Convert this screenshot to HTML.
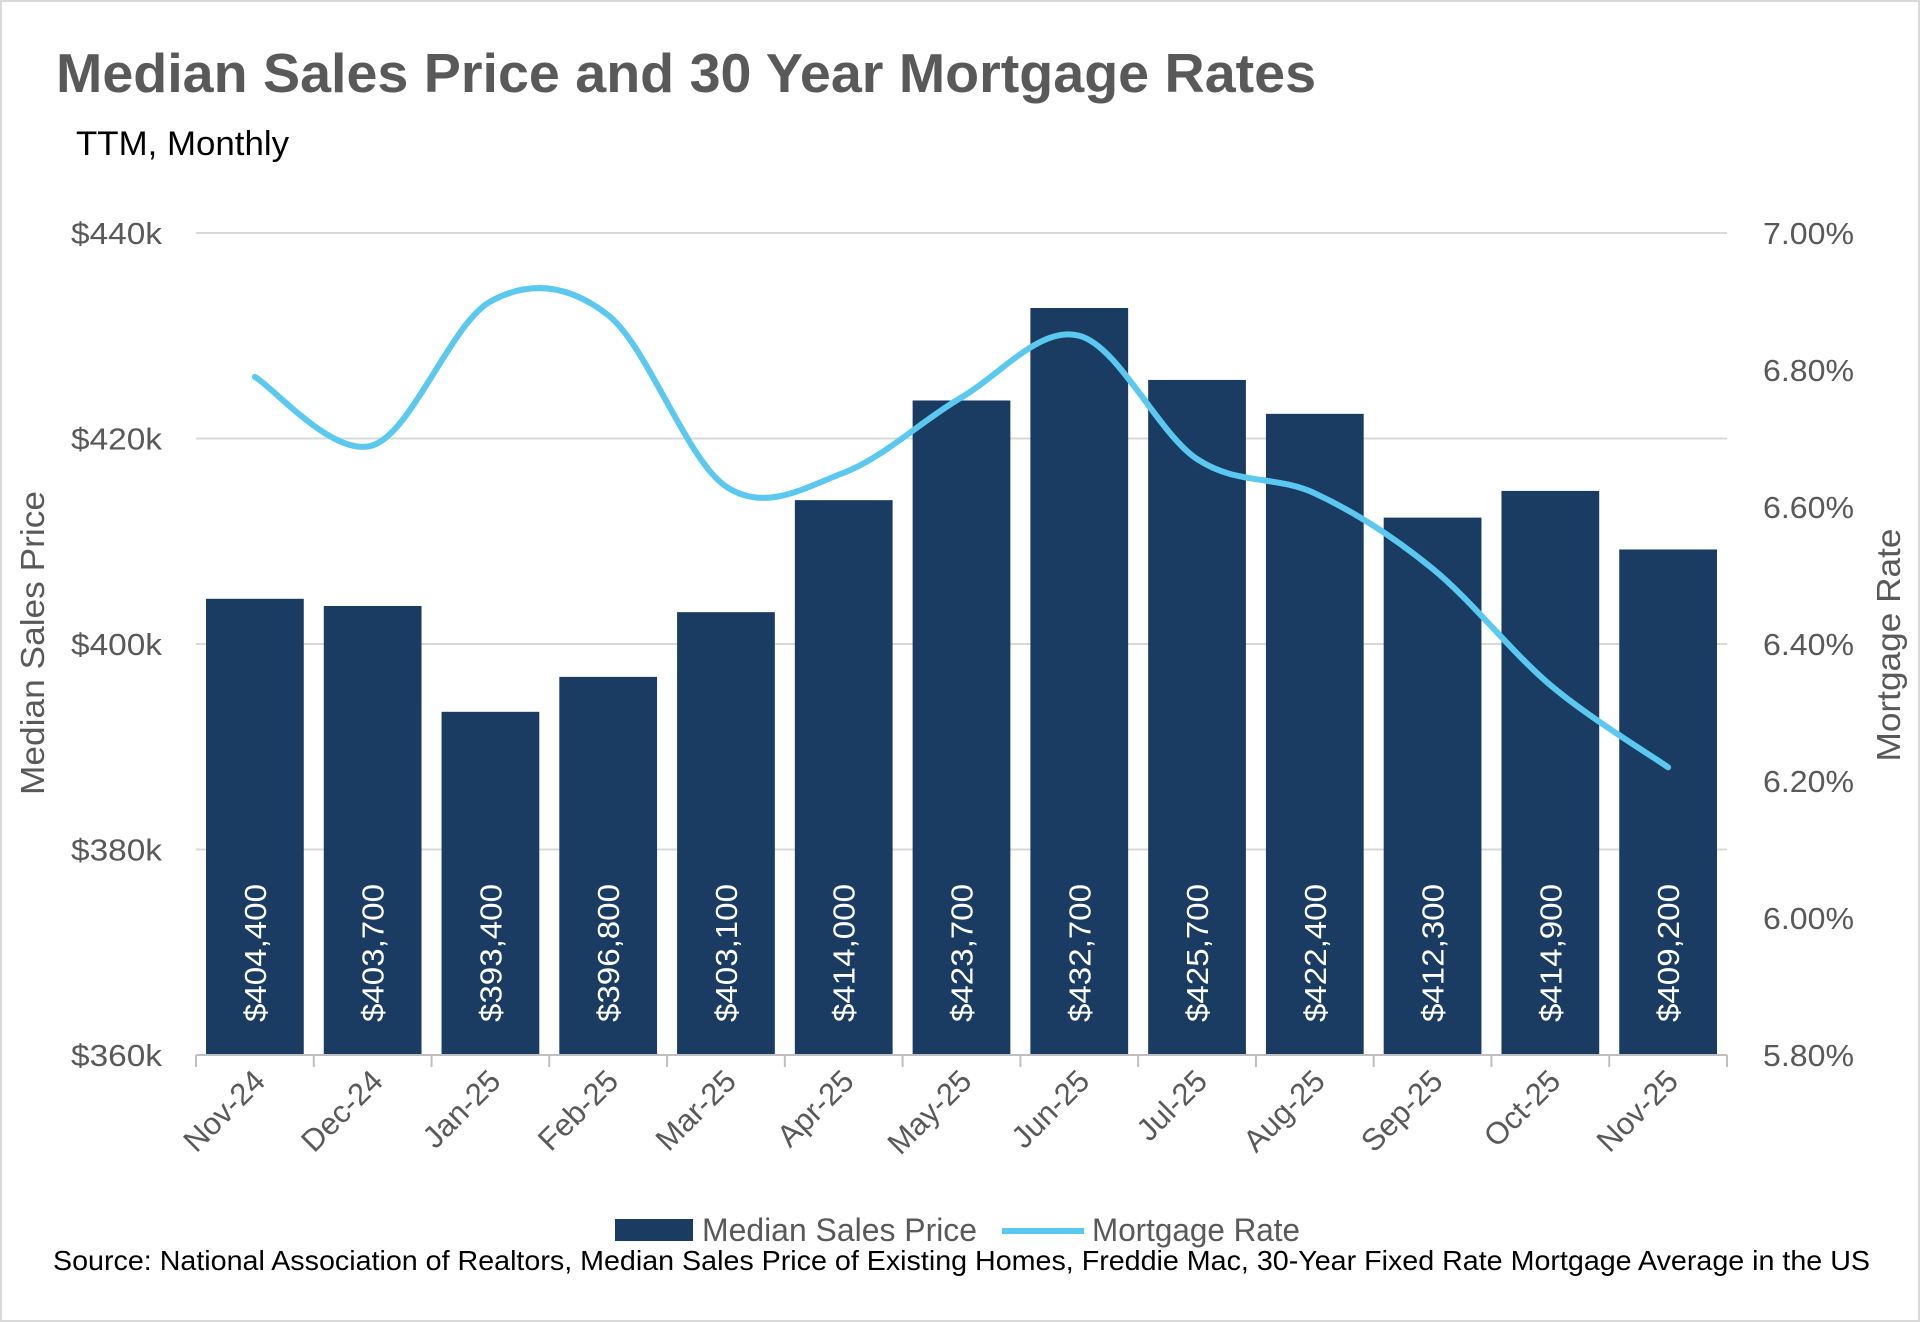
<!DOCTYPE html>
<html><head><meta charset="utf-8"><style>
html,body{margin:0;padding:0;background:#fff}
svg{display:block;font-family:"Liberation Sans",sans-serif}
</style></head><body>
<svg id="chart" width="1920" height="1322" viewBox="0 0 1920 1322">
<rect x="1" y="1" width="1918" height="1320" fill="#fff" stroke="#d9d9d9" stroke-width="2"/>
<text x="56" y="92" font-size="55" font-weight="bold" fill="#595959" textLength="1260" lengthAdjust="spacingAndGlyphs">Median Sales Price and 30 Year Mortgage Rates</text>
<text x="76" y="155" font-size="34" fill="#000" textLength="213" lengthAdjust="spacingAndGlyphs">TTM, Monthly</text>
<g id="grid"></g><g id="bars"></g><g id="line"></g><g id="axes"></g>
<text transform="translate(44,643) rotate(-90)" text-anchor="middle" font-size="33" fill="#595959" textLength="304" lengthAdjust="spacingAndGlyphs">Median Sales Price</text>
<text transform="translate(1900,645) rotate(-90)" text-anchor="middle" font-size="33" fill="#595959" textLength="233" lengthAdjust="spacingAndGlyphs">Mortgage Rate</text>
<g>
<rect x="615" y="1219" width="78" height="22" fill="#1a3c63"/>
<text x="702" y="1241" font-size="32" fill="#595959" textLength="275" lengthAdjust="spacingAndGlyphs">Median Sales Price</text>
<line x1="1002" y1="1231" x2="1084" y2="1231" stroke="#5bc8f0" stroke-width="6"/>
<text x="1092" y="1241" font-size="32" fill="#595959" textLength="208" lengthAdjust="spacingAndGlyphs">Mortgage Rate</text>
</g>
<text x="53" y="1270" font-size="28" fill="#000" textLength="1817" lengthAdjust="spacingAndGlyphs">Source: National Association of Realtors, Median Sales Price of Existing Homes, Freddie Mac, 30-Year Fixed Rate Mortgage Average in the US</text>
</svg>
<script>
const categories=["Nov-24","Dec-24","Jan-25","Feb-25","Mar-25","Apr-25","May-25","Jun-25","Jul-25","Aug-25","Sep-25","Oct-25","Nov-25"];
const prices=[404400,403700,393400,396800,403100,414000,423700,432700,425700,422400,412300,414900,409200];
const rates=[6.79,6.69,6.90,6.88,6.63,6.65,6.76,6.85,6.67,6.62,6.51,6.34,6.22];
const leftTicks=[360000,380000,400000,420000,440000];
const leftTickLabels=["$360k","$380k","$400k","$420k","$440k"];
const rightTicks=[5.8,6.0,6.2,6.4,6.6,6.8,7.0];
const rightTickLabels=["5.80%","6.00%","6.20%","6.40%","6.60%","6.80%","7.00%"];
const NS="http://www.w3.org/2000/svg";
const X0=196,X1=1727,Y0=1055,Y1=233;
const band=(X1-X0)/categories.length;
const xc=i=>X0+band*(i+0.5);
const yL=v=>Y0-(v-360000)/(440000-360000)*(Y0-Y1);
const yR=v=>Y0-(v-5.8)/(7.0-5.8)*(Y0-Y1);
function mk(tag,attrs,parent){const e=document.createElementNS(NS,tag);for(const k in attrs)e.setAttribute(k,attrs[k]);parent.appendChild(e);return e;}
const grid=document.getElementById('grid'),bars=document.getElementById('bars'),line=document.getElementById('line'),axes=document.getElementById('axes');
leftTicks.forEach((t,i)=>{
  if(i>0){const g=mk('line',{x1:X0,x2:X1,y1:yL(t),y2:yL(t),stroke:'#d9d9d9','stroke-width':2},grid);
  
  }
  const l=mk('text',{x:162,y:yL(t)+11,'text-anchor':'end','font-size':31,fill:'#595959',textLength:91,lengthAdjust:'spacingAndGlyphs'},axes);l.textContent=leftTickLabels[i];
  
  
});
rightTicks.forEach((t,i)=>{
  const l=mk('text',{x:1763,y:yR(t)+11,'text-anchor':'start','font-size':31,fill:'#595959',textLength:91,lengthAdjust:'spacingAndGlyphs'},axes);l.textContent=rightTickLabels[i];
  
  
});
const ax=mk('line',{x1:X0,x2:X1,y1:Y0,y2:Y0,stroke:'#bfbfbf','stroke-width':2},axes);


for(let i=0;i<=categories.length;i++){const t=mk('line',{x1:X0+band*i,x2:X0+band*i,y1:Y0,y2:Y0+12,stroke:'#bfbfbf','stroke-width':2},axes);
  
  }
const bw=band*0.83;
prices.forEach((p,i)=>{
  const r=mk('rect',{x:xc(i)-bw/2,y:yL(p),width:bw,height:Y0-yL(p),fill:'#1a3c63'},bars);
  
  
  const t=mk('text',{transform:`translate(${xc(i)+11},1022) rotate(-90)`,'font-size':31,fill:'#fff',textLength:138,lengthAdjust:'spacingAndGlyphs'},bars);
  t.textContent='$'+p.toLocaleString('en-US');
  
  
  const c=mk('text',{transform:`translate(${xc(i)+12},1083) rotate(-45)`,'text-anchor':'end','font-size':31,fill:'#595959'},axes);
  c.textContent=categories[i];
  
  
});
const pts=rates.map((r,i)=>[xc(i),yR(r)]);
let d=`M${pts[0][0]},${pts[0][1]}`;
for(let i=0;i<pts.length-1;i++){
  const p0=pts[i-1]||pts[i],p1=pts[i],p2=pts[i+1],p3=pts[i+2]||p2;
  const c1=[p1[0]+(p2[0]-p0[0])/6,p1[1]+(p2[1]-p0[1])/6],c2=[p2[0]-(p3[0]-p1[0])/6,p2[1]-(p3[1]-p1[1])/6];
  d+=` C${c1[0]},${c1[1]} ${c2[0]},${c2[1]} ${p2[0]},${p2[1]}`;
}
const path=mk('path',{d:d,fill:'none',stroke:'#5bc8f0','stroke-width':6,'stroke-linecap':'round'},line);


</script>
</body></html>
